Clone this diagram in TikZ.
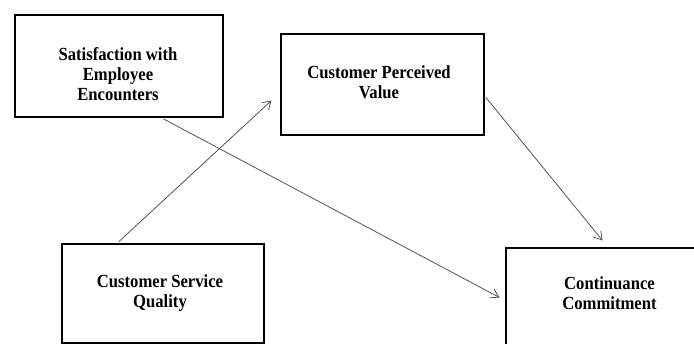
\documentclass[tikz,border=0pt]{standalone}
\usepackage{fontspec}
\setmainfont{Liberation Serif}[FakeStretch=0.9]
\usetikzlibrary{arrows.meta,calc}
\begin{document}
\begin{tikzpicture}[x=1pt,y=-1pt,
  box/.style={draw=black,line width=2.4pt,rectangle,inner sep=0pt,anchor=north west},
  lbl/.style={align=center,font=\fontsize{18.5}{20}\selectfont\bfseries,inner sep=0pt},
  arr/.style={draw=black!70,line width=0.75pt,-{Straight Barb[length=8pt,width=10pt,line width=0.75pt]}}]
\fill[white] (0,0) rectangle (694,343);
\useasboundingbox (0,0) rectangle (694,343);
\node[box,minimum width=208pt,minimum height=102pt] (b1) at (13.5,13.5) {};
\node[box,minimum width=203pt,minimum height=101pt] (b2) at (279.5,32.5) {};
\node[box,minimum width=202pt,minimum height=99pt] (b3) at (61,242.5) {};
\node[box,minimum width=230pt,minimum height=110pt] (b4) at (504.5,246.5) {};
\node[lbl] (t1) at (118,74) {Satisfaction with\\Employee\\Encounters};
\node[lbl] (t2) at (379,82) {Customer Perceived\\Value};
\node[lbl] (t3) at (160,293.5) {Customer Service\\Quality};
\node[lbl] (t4) at (609.5,293) {Continuance\\Commitment};
\draw[arr] ($(b1.south west)+(150,1)$) -- ($(b4.north west)+(-5,51)$);
\draw[arr] ($(b3.north west)+(58,-1)$) -- ($(b2.north west)+(-8,68)$);
\draw[arr] ($(b2.north east)+(1,65)$) -- ($(b4.north west)+(98,-6)$);
\end{tikzpicture}
\end{document}
